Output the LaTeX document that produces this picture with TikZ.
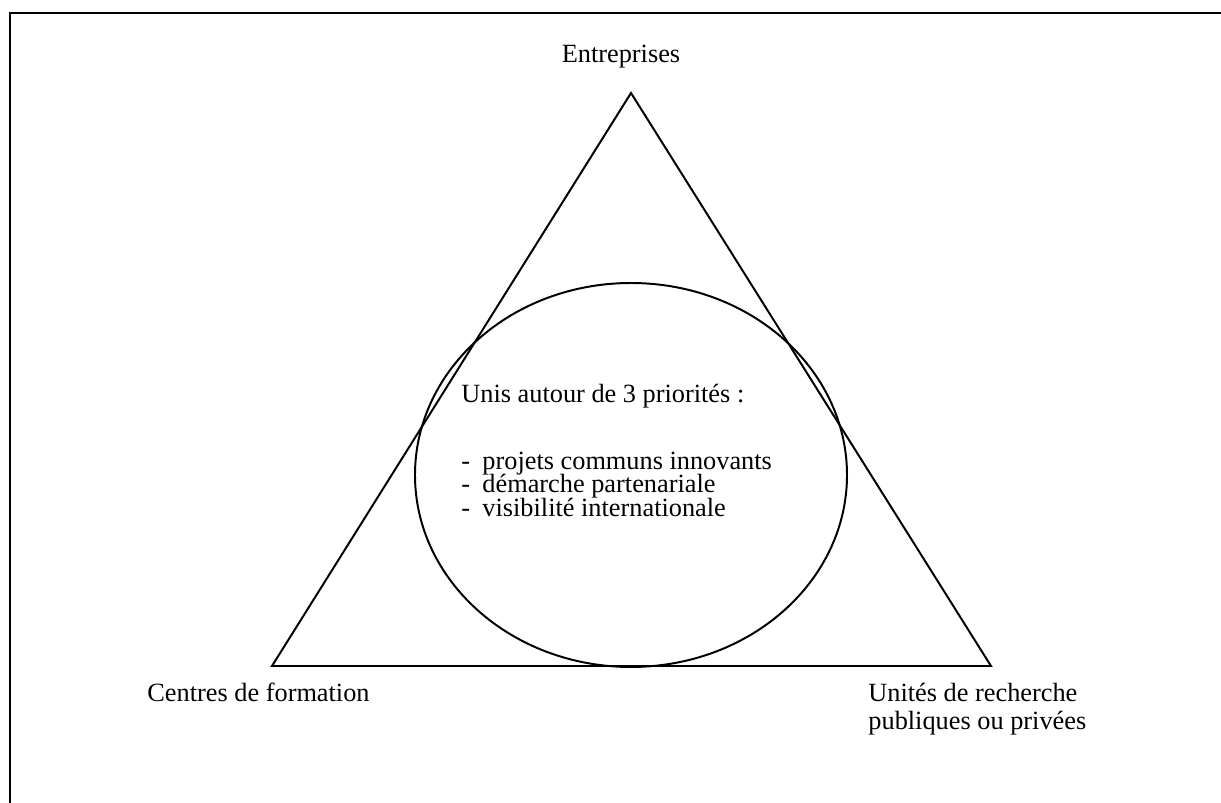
\documentclass[tikz,border=0pt]{standalone}
\usepackage{fontspec}
\setmainfont{Liberation Serif}
\usetikzlibrary{shapes.geometric,positioning}

\tikzset{
  lbl/.style={inner sep=0pt,anchor=base west,font=\fontsize{12}{14}\selectfont},
  trait/.style={line width=0.9pt},
  puce/.style={lbl},
}

\begin{document}
\begin{tikzpicture}[x=0.456pt,y=-0.456pt]
\useasboundingbox (0,0) rectangle (1221,803);
% cadre (seulement haut et gauche visibles)
\draw[line width=1pt] (10,803)--(10,13)--(1221,13);
% triangle
\coordinate (ent) at (631,93);
\coordinate (form) at (272,666);
\coordinate (rech) at (991,666);
\draw[trait,line join=miter] (ent)--(form)--(rech)--cycle;
% ellipse centrale
\node[trait,draw,ellipse,inner sep=0pt,minimum width=197pt,minimum height=175.1pt] (prio) at (631,475) {};
% sommets
\node[lbl,anchor=base] (entreprises) at (621,63) {Entreprises};
\node[lbl] (centres) at (147,702) {Centres de formation};
\node[lbl] (unites) at (868,702) {Unités de recherche};
\node[lbl] (publiques) at (868,730) {publiques ou privées};
% priorites
\node[lbl] (titre) at (461,403) {Unis autour de 3 priorités :};
\node[puce] (p1) at (461,470) {\makebox[9.6pt][l]{-}projets communs innovants};
\node[puce] (p2) at (461,493) {\makebox[9.6pt][l]{-}démarche partenariale};
\node[puce] (p3) at (461,517) {\makebox[9.6pt][l]{-}visibilité internationale};
\end{tikzpicture}
\end{document}
